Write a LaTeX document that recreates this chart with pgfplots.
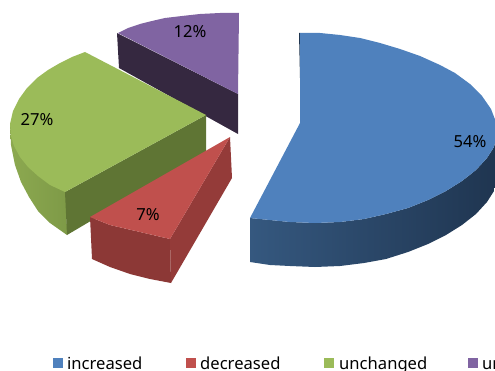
\documentclass[border=0pt]{standalone}
\usepackage{pgfplots}
\usepackage{fontspec}
\setmainfont{Noto Sans}
\pgfplotsset{compat=1.18}
\definecolor{blueTop}{HTML}{4F81BD}
\definecolor{blueA}{HTML}{35587F}
\definecolor{blueB}{HTML}{1F3550}
\definecolor{redTop}{HTML}{C0504D}
\definecolor{redSide}{HTML}{8C3836}
\definecolor{redSideB}{HTML}{943B39}
\definecolor{greenTop}{HTML}{9BBB59}
\definecolor{greenCut}{HTML}{5F7534}
\definecolor{greenA}{HTML}{7E9A47}
\definecolor{greenB}{HTML}{8CA950}
\definecolor{purpleTop}{HTML}{8064A2}
\definecolor{purpleCut}{HTML}{352840}
\begin{document}
\begin{tikzpicture}
\clip (0,0) rectangle (495bp,371bp);
\begin{axis}[hide axis, scale only axis, width=495bp, height=371bp,
  xmin=0, xmax=495, ymin=0, ymax=371, y dir=reverse, clip=false]
% purple slice
\addplot[fill=purpleCut, draw=none] coordinates {(117,33)(238,94)(238,134)(119,68)} -- cycle;
\addplot[fill=purpleTop, draw=none] coordinates {(118,33)(128,28)(140,24)(152,21)(165,18)(182,16)(200,14)(220,13)(239,13)(238,94)} -- cycle;
% green slice
\addplot[left color=greenB, right color=greenA, draw=none] coordinates {(10,124)(11,145)(15,165)(21,182)(29,197)(38,211)(50,223)(67,235)(66,192)} -- cycle;
\addplot[fill=greenCut, draw=none] coordinates {(65,192)(206,115)(206,153)(67,235)} -- cycle;
\addplot[fill=greenTop, draw=none] coordinates {(85,52)(72,57)(60,63)(48,70)(37,78)(27,88)(19,99)(13,111)(10,124)(11,136)(14,146)(20,157)(28,167)(38,176)(50,185)(65,192)(206,115)} -- cycle;
% red slice
\addplot[fill=redSide, draw=none] coordinates {(90,217)(110,225)(140,232)(170,239)(171,283)(150,279)(130,274)(110,267)(92,259)} -- cycle;
\addplot[fill=redSideB, draw=none] coordinates {(170,239)(230,137)(232,178)(171,283)} -- cycle;
\addplot[fill=redTop, draw=none] coordinates {(230,137)(90,217)(110,225)(140,232)(170,239)} -- cycle;
% blue slice
\addplot[left color=blueA, middle color=blueB, right color=blueB, draw=none] coordinates {(250,218)(270,220)(290,222)(315,223)(340,222)(364,219)(386,214)(408,208)(428,200)(446,191)(462,181)(476,170)(487,158)(494,147)(497,134)(497,178)(494,191)(487,202)(476,214)(462,225)(446,235)(428,244)(408,252)(386,259)(364,263)(340,266)(315,267)(290,266)(270,265)(250,262)} -- cycle;
\addplot[fill=blueB, draw=none] coordinates {(299,33)(300,33)(303,122)(301,123)} -- cycle;
\addplot[fill=blueTop, draw=none] coordinates {(300,33)(320,33)(340,35)(360,38)(380,43)(400,49)(420,56)(440,65)(455,73)(470,84)(482,96)(491,109)(496,122)(497,134)(494,147)(487,158)(476,170)(462,181)(446,191)(428,200)(408,208)(386,214)(364,219)(340,222)(315,223)(290,222)(270,220)(250,218)(300,123)} -- cycle;
% percentage labels
\fontsize{17.5bp}{20bp}\selectfont
\node at (axis cs:470,142) {54\%};
\node at (axis cs:37,120) {27\%};
\node at (axis cs:148,215) {7\%};
\node at (axis cs:190,32) {12\%};
% key along the bottom
\addplot[fill=blueTop, draw=none] coordinates {(53,358)(63,358)(63,368)(53,368)} -- cycle;
\addplot[fill=redTop, draw=none] coordinates {(186,358)(196,358)(196,368)(186,368)} -- cycle;
\addplot[fill=greenTop, draw=none] coordinates {(324,358)(334,358)(334,368)(324,368)} -- cycle;
\addplot[fill=purpleTop, draw=none] coordinates {(468,358)(478,358)(478,368)(468,368)} -- cycle;
\fontsize{16.6bp}{20bp}\selectfont
\node[anchor=base west, inner sep=0pt] at (axis cs:67,369) {increased};
\node[anchor=base west, inner sep=0pt] at (axis cs:200,369) {decreased};
\node[anchor=base west, inner sep=0pt] at (axis cs:339,369) {unchanged};
\node[anchor=base west, inner sep=0pt] at (axis cs:482,369) {un};
\end{axis}
\end{tikzpicture}
\end{document}
